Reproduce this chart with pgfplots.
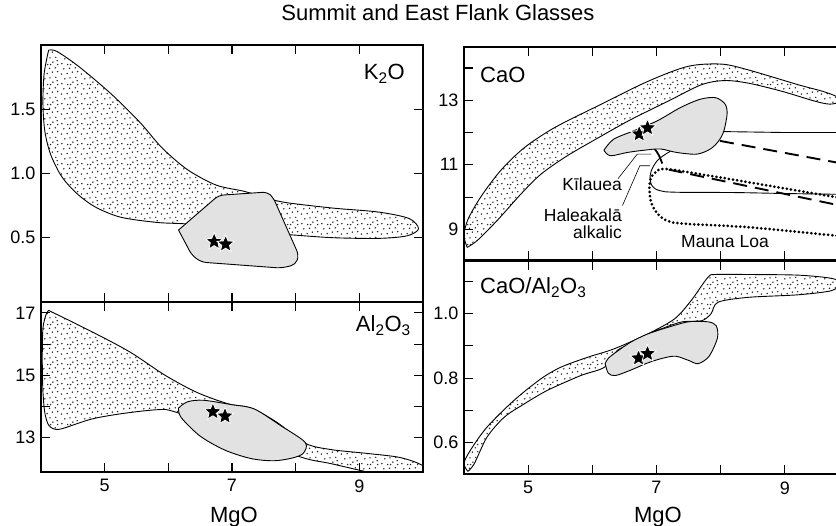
\documentclass[border=0pt]{standalone}
\usepackage{fontspec}
\setmainfont{Liberation Sans}
\usepackage{pgfplots}
\pgfplotsset{compat=1.18}
\usetikzlibrary{patterns.meta}

\tikzdeclarepattern{
  name=stipple,
  bottom left={(0pt,0pt)},
  top right={(20pt,20pt)},
  tile size={(20pt,20pt)},
  code={
    \foreach \x/\y in {2/2.5,8/1.5,13.5/4,18.5/1.5,5/7.5,10.5/8.5,16.5/9,1.5/12.5,7.5/13,13/14.5,18.5/15,4/18,10/18.5,16/19,11/1.5,18/5.5}{
      \fill (\x pt,\y pt) circle (0.85pt);
    }
  }
}

\pgfdeclareplotmark{fivestar}{%
  \pgfpathmoveto{\pgfpointpolar{90}{\pgfplotmarksize}}%
  \pgfpathlineto{\pgfpointpolar{126}{0.45\pgfplotmarksize}}%
  \pgfpathlineto{\pgfpointpolar{162}{\pgfplotmarksize}}%
  \pgfpathlineto{\pgfpointpolar{198}{0.45\pgfplotmarksize}}%
  \pgfpathlineto{\pgfpointpolar{234}{\pgfplotmarksize}}%
  \pgfpathlineto{\pgfpointpolar{270}{0.45\pgfplotmarksize}}%
  \pgfpathlineto{\pgfpointpolar{306}{\pgfplotmarksize}}%
  \pgfpathlineto{\pgfpointpolar{342}{0.45\pgfplotmarksize}}%
  \pgfpathlineto{\pgfpointpolar{18}{\pgfplotmarksize}}%
  \pgfpathlineto{\pgfpointpolar{54}{0.45\pgfplotmarksize}}%
  \pgfpathclose
  \pgfusepathqfillstroke
}

\definecolor{fieldgray}{RGB}{226,226,226}

\pgfplotsset{
  panel/.style={
    scale only axis, anchor=south west, xmin=4, xmax=10,
    xtick={5,6,7,8,9}, xticklabels={},
    tick align=inside, major tick length=9pt,
    axis line style={line width=1.1pt},
    major tick style={line width=1.1pt, black},
    tick label style={font=\fontsize{18}{20}\selectfont},
    yticklabel style={xshift=-2pt},
    xticklabel style={yshift=-4pt},
    axis on top,
  },
  stip/.style={draw=black, line width=0.9pt, pattern=stipple, pattern color=black!85, smooth, tension=0.5},
  grayf/.style={draw=black, line width=0.9pt, fill=fieldgray},
  stars/.style={only marks, mark=fivestar, mark size=9pt, mark options={fill=black, draw=white, line width=0.8pt}},
}

\begin{document}
\begin{tikzpicture}
% ---------------- K2O ----------------
\begin{axis}[panel, at={(41pt,224pt)}, width=382pt, height=257pt,
  ymin=0, ymax=2.0, ytick={0.5,1.0,1.5}, yticklabels={0.5,1.0,1.5}]
\addplot[stip] coordinates {
 (4.12,1.96) (4.05,1.78) (4.03,1.55) (4.06,1.33) (4.15,1.15) (4.32,0.98) (4.55,0.85)
 (4.85,0.74) (5.25,0.66) (5.8,0.62) (6.2,0.61) (6.6,0.60) (7.0,0.57) (7.5,0.54)
 (8.0,0.52) (8.6,0.50) (9.3,0.495) (9.75,0.515) (9.93,0.57) (9.78,0.65) (9.3,0.70)
 (8.6,0.73) (7.9,0.77) (7.6,0.80) (7.2,0.86) (6.75,0.91) (6.3,1.03) (5.9,1.2)
 (5.55,1.40) (5.1,1.62) (4.6,1.83) (4.25,1.95) (4.12,1.96)};
\addplot[grayf, rounded corners=5pt] coordinates {
 (6.16,0.56) (6.79,0.83) (7.56,0.856) (7.65,0.81) (8.05,0.364) (8.0,0.29)
 (7.77,0.264) (6.52,0.31) (6.37,0.364) (6.16,0.56)};
\addplot[stars] coordinates {(6.72,0.47) (6.90,0.45)};
\end{axis}
% ---------------- Al2O3 ----------------
\begin{axis}[panel, at={(41pt,54pt)}, width=382pt, height=170pt,
  ymin=11.9, ymax=17.35, ytick={13,14,15,16,17}, yticklabels={13,,15,,17},
  xticklabels={5,,7,,9}]
\addplot[stip] coordinates {
 (4.12,17.08) (4.6,16.6) (5.1,16.08) (5.45,15.68) (5.95,15.0) (6.45,14.45)
 (6.95,14.08) (7.3,13.95) (7.7,13.5) (8.15,12.82) (8.55,12.62) (9.1,12.5)
 (9.6,12.38) (9.9,12.2) (10.1,11.95) (10.1,11.6) (9.3,11.83) (8.55,12.17)
 (8.08,12.38) (7.0,13.2) (6.1,13.83) (5.85,13.9) (5.3,13.78) (4.8,13.6)
 (4.35,13.3) (4.22,13.27) (4.12,13.4) (4.06,13.8) (4.03,14.5) (4.02,15.5)
 (4.03,16.5) (4.08,16.95) (4.12,17.08)};
\addplot[grayf, smooth, tension=0.5] coordinates {
 (6.16,13.95) (6.3,14.15) (6.55,14.2) (6.99,14.06) (7.35,13.92) (7.77,13.38)
 (8.15,12.85) (8.12,12.5) (7.95,12.35) (7.66,12.26) (7.3,12.33) (6.89,12.6)
 (6.5,13.05) (6.2,13.65) (6.16,13.95)};
\addplot[stars] coordinates {(6.70,13.83) (6.89,13.69)};
\end{axis}
% ---------------- CaO ----------------
\begin{axis}[panel, at={(464pt,266pt)}, width=385pt, height=213pt,
  ymin=8.05, ymax=14.65, ytick={9,10,11,12,13,14}, yticklabels={9,,11,,13,}]
\addplot[stip] coordinates {
 (4.05,8.44) (4.0,8.8) (4.06,9.3) (4.26,10.0) (4.57,10.82) (4.94,11.53) (5.41,12.15)
 (6.08,12.82) (6.86,13.58) (7.49,14.05) (8.01,14.12) (8.43,13.94) (9.21,13.48)
 (9.6,13.27) (9.82,13.1) (9.85,12.95) (9.7,12.88) (9.47,12.97) (8.95,13.28)
 (8.43,13.53) (8.06,13.61) (7.70,13.48) (7.18,12.97) (6.60,12.4) (6.14,11.89)
 (5.61,11.28) (5.2,10.71) (4.89,10.1) (4.52,9.28) (4.21,8.66) (4.05,8.44)};
% Haleakala alkalic field (solid)
\addplot[black, line width=0.9pt] coordinates {(8.0,12.03) (9.0,12.0) (10,12.0)};
\addplot[black, line width=0.9pt, smooth, tension=0.6] coordinates {
 (7.24,11.45) (7.05,11.2) (6.95,10.95) (6.90,10.66) (6.93,10.35) (7.05,10.2)
 (7.3,10.15) (8.2,10.14) (9.0,10.11) (10,10.08)};
% dashed field
\addplot[black, line width=1.8pt, smooth] coordinates {(6.94,11.58) (7.03,11.32) (7.09,11.04)};
\addplot[black, line width=1.9pt, dash pattern=on 14pt off 8pt] coordinates {(7.19,10.85) (10,9.68)};
\addplot[black, line width=1.9pt, dash pattern=on 14pt off 8pt] coordinates {(7.99,11.74) (10,11.0)};
% Mauna Loa (dotted)
\addplot[black, line width=3pt, line cap=round, dash pattern=on 0pt off 4.2pt, smooth, tension=0.6] coordinates {
 (10,9.95) (9.76,10.01) (8.46,10.45) (7.68,10.71) (7.14,10.87) (6.98,10.76)
 (6.90,10.5) (6.90,9.99) (6.98,9.58) (7.16,9.27) (7.47,9.17) (8.46,9.06)
 (9.77,8.81) (10,8.77)};
% Kilauea field
\addplot[grayf, smooth, tension=0.5] coordinates {
 (6.18,11.45) (6.33,11.79) (6.64,12.05) (7.01,12.36) (7.37,12.77) (7.68,13.03)
 (7.92,13.08) (8.07,12.88) (8.10,12.57) (8.05,12.05) (7.97,11.74) (7.84,11.49)
 (7.63,11.33) (7.32,11.38) (7.06,11.49) (6.80,11.45) (6.54,11.38) (6.28,11.28)
 (6.18,11.45)};
\addplot[stars] coordinates {(6.73,11.95) (6.86,12.14)};
% leader lines
\draw[line width=0.6pt] (axis cs:6.40,10.57) -- (axis cs:6.70,11.33) -- (axis cs:6.92,11.33);
\draw[line width=0.6pt] (axis cs:6.47,9.74) -- (axis cs:6.74,10.97) -- (axis cs:6.90,10.97);
\end{axis}
% ---------------- CaO/Al2O3 ----------------
\begin{axis}[panel, at={(464pt,52pt)}, width=385pt, height=213pt,
  ymin=0.502, ymax=1.164, ytick={0.6,0.7,0.8,0.9,1.0,1.1}, yticklabels={0.6,,0.8,,1.0,},
  xticklabels={5,,7,,9}]
\addplot[stip] coordinates {
 (4.06,0.51) (4.0,0.535) (4.1,0.576) (4.36,0.648) (4.78,0.731) (5.2,0.798)
 (5.51,0.834) (5.93,0.865) (6.34,0.891) (6.86,0.937) (7.28,0.984) (7.54,1.041)
 (7.80,1.113) (7.92,1.122) (8.43,1.122) (9.21,1.12) (9.73,1.11) (9.86,1.095)
 (9.73,1.072) (9.21,1.059) (8.43,1.051) (7.96,1.036) (7.85,1.0) (7.70,0.978)
 (7.4,0.975) (7.1,0.955) (6.8,0.93) (6.6,0.906) (6.39,0.886) (6.19,0.834)
 (5.82,0.808) (5.30,0.762) (4.94,0.720) (4.63,0.679) (4.36,0.617) (4.16,0.534)
 (4.06,0.51)};
\addplot[grayf, smooth, tension=0.5] coordinates {
 (6.2,0.845) (6.25,0.815) (6.36,0.808) (6.6,0.825) (6.86,0.847) (7.1,0.862)
 (7.3,0.868) (7.5,0.855) (7.65,0.845) (7.82,0.868) (7.95,0.925) (7.93,0.963)
 (7.8,0.975) (7.5,0.975) (7.18,0.958) (6.86,0.937) (6.6,0.912) (6.4,0.885)
 (6.25,0.862) (6.2,0.845)};
\addplot[stars] coordinates {(6.72,0.862) (6.86,0.876)};
\end{axis}
% ---------------- texts ----------------
\node[anchor=base, font=\fontsize{22}{24}\selectfont] at (438pt,505pt) {Summit and East Flank Glasses};
\node[anchor=base, font=\fontsize{22}{24}\selectfont] at (234pt,3.5pt) {MgO};
\node[anchor=base, font=\fontsize{22}{24}\selectfont] at (658pt,3.5pt) {MgO};
\node[anchor=base east, font=\fontsize{22}{24}\selectfont, inner sep=0pt] at (405pt,446pt) {K\textsubscript{2}O};
\node[anchor=base east, font=\fontsize{22}{24}\selectfont, inner sep=0pt] at (411pt,194pt) {Al\textsubscript{2}O\textsubscript{3}};
\node[anchor=base west, font=\fontsize{22}{24}\selectfont, inner sep=0pt] at (480pt,443pt) {CaO};
\node[anchor=base west, font=\fontsize{22}{24}\selectfont, inner sep=0pt] at (480pt,232pt) {CaO/Al\textsubscript{2}O\textsubscript{3}};
\node[anchor=base east, font=\fontsize{17.5}{19}\selectfont, inner sep=0pt] at (622pt,335pt) {Kīlauea};
\node[anchor=base east, font=\fontsize{17.5}{19}\selectfont, inner sep=0pt] at (622pt,304.5pt) {Haleakalā};
\node[anchor=base east, font=\fontsize{17.5}{19}\selectfont, inner sep=0pt] at (622pt,287pt) {alkalic};
\node[anchor=base west, font=\fontsize{17.5}{19}\selectfont, inner sep=0pt] at (681pt,278pt) {Mauna Loa};
\pgfresetboundingbox
\path[use as bounding box] (0pt,0pt) rectangle (836pt,526pt);
\end{tikzpicture}
\end{document}
